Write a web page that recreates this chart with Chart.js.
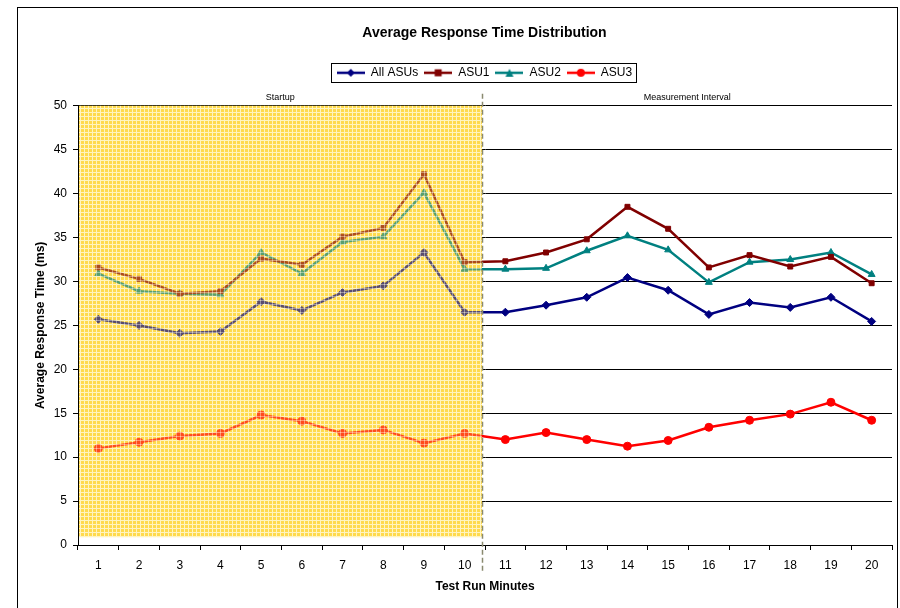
<!DOCTYPE html>
<html>
<head>
<meta charset="utf-8">
<script src="https://cdn.jsdelivr.net/npm/chart.js@4.4.1/dist/chart.umd.min.js"></script>
<style>
html, body { margin: 0; padding: 0; background: #fff; }
</style>
</head>
<body>
<canvas id="chart" width="900" height="608"></canvas>
<script>
// data
var minutes = ['1','2','3','4','5','6','7','8','9','10','11','12','13','14','15','16','17','18','19','20'];
var allAsus = [25.7, 25.0, 24.1, 24.3, 27.7, 26.7, 28.75, 29.5, 33.3, 26.5, 26.5, 27.3, 28.2, 30.45, 29.0, 26.25, 27.6, 27.05, 28.2, 25.45];
var asu1 = [31.6, 30.3, 28.6, 28.9, 32.6, 31.9, 35.1, 36.1, 42.2, 32.2, 32.3, 33.3, 34.8, 38.5, 36.0, 31.6, 33.0, 31.7, 32.8, 29.8];
var asu2 = [30.9, 28.9, 28.6, 28.5, 33.3, 30.9, 34.5, 35.1, 40.1, 31.4, 31.4, 31.5, 33.5, 35.2, 33.6, 29.9, 32.2, 32.5, 33.3, 30.8];
var asu3 = [11.0, 11.7, 12.4, 12.7, 14.8, 14.1, 12.7, 13.1, 11.6, 12.7, 12.0, 12.8, 12.0, 11.25, 11.9, 13.4, 14.2, 14.9, 16.25, 14.2];
var startupMinutes = 10;

Chart.defaults.font.family = '"Liberation Sans", Arial, sans-serif';
Chart.defaults.font.size = 12;
Chart.defaults.color = '#000';

// little line+marker pictures for the legend
function legendIcon(color, style) {
    var c = document.createElement('canvas');
    c.width = 28; c.height = 10;
    var g = c.getContext('2d');
    g.strokeStyle = color; g.fillStyle = color; g.lineWidth = 2.5;
    g.beginPath(); g.moveTo(0, 5); g.lineTo(28, 5); g.stroke();
    g.beginPath();
    if (style === 'rectRot') { g.moveTo(14, 1); g.lineTo(18, 5); g.lineTo(14, 9); g.lineTo(10, 5); }
    else if (style === 'rect') { g.rect(10.5, 1.5, 7, 7); }
    else if (style === 'triangle') { g.moveTo(14, 1); g.lineTo(18, 9); g.lineTo(10, 9); }
    else { g.arc(14, 5, 4, 0, Math.PI * 2); }
    g.closePath(); g.fill();
    return c;
}

// yellow checked pattern of the startup area
function makePattern(ctx, base, light) {
    var c = document.createElement('canvas');
    c.width = 4; c.height = 4;
    var g = c.getContext('2d');
    g.fillStyle = base;
    g.fillRect(0, 0, 4, 4);
    g.clearRect(0, 0, 4, 1);
    g.clearRect(0, 0, 1, 4);
    g.fillStyle = light;
    g.fillRect(0, 0, 4, 1);
    g.fillRect(0, 0, 1, 4);
    return ctx.createPattern(c, 'repeat');
}

var series = [
    { label: 'All ASUs', data: allAsus, color: '#000080', style: 'rectRot', r: 4 },
    { label: 'ASU1', data: asu1, color: '#800000', style: 'rect', r: 3.5 },
    { label: 'ASU2', data: asu2, color: '#008080', style: 'triangle', r: 4 },
    { label: 'ASU3', data: asu3, color: '#ff0000', style: 'circle', r: 4 }
];
var icons = series.map(function (s) { return legendIcon(s.color, s.style); });

function splitPixel(chart) {
    var xs = chart.scales.x;
    return (xs.getPixelForValue(startupMinutes - 1) + xs.getPixelForValue(startupMinutes)) / 2 - 3;
}

var extras = {
    id: 'extras',
    afterUpdate: function (chart) {
        // centre title and legend over the plot, like the original
        var d = 30;
        chart.titleBlock.left += d; chart.titleBlock.right += d;
        chart.legend.left += d; chart.legend.right += d;
        chart.legend.legendHitBoxes.forEach(function (h) { h.left += d; });
    },
    beforeDatasetsDraw: function (chart) {
        var ctx = chart.ctx, a = chart.chartArea, ys = chart.scales.y;
        var sx = splitPixel(chart);
        ctx.save();
        ctx.fillStyle = makePattern(ctx, '#ffdb4d', '#fff4c0');
        ctx.fillRect(a.left + 1, a.top, sx - a.left - 1, ys.getPixelForValue(0.9) - a.top);
        ctx.restore();
    },
    afterDatasetsDraw: function (chart) {
        var ctx = chart.ctx, a = chart.chartArea, ys = chart.scales.y;
        var sx = splitPixel(chart);
        ctx.save();
        ctx.fillStyle = makePattern(ctx, 'rgba(255,219,77,0.35)', 'rgba(255,244,192,0.6)');
        ctx.fillRect(a.left + 1, a.top, sx - a.left - 1, ys.getPixelForValue(0.9) - a.top);
        ctx.restore();
    },
    afterDraw: function (chart) {
        var ctx = chart.ctx, a = chart.chartArea;
        var sx = Math.round(splitPixel(chart)) + 0.5;
        ctx.save();
        // dashed separator
        ctx.strokeStyle = '#8a8a70';
        ctx.lineWidth = 1.5;
        ctx.setLineDash([5, 3]);
        ctx.beginPath();
        ctx.moveTo(sx, a.top - 12);
        ctx.lineTo(sx, a.bottom + 27);
        ctx.stroke();
        ctx.setLineDash([]);
        // region captions
        ctx.fillStyle = '#000';
        ctx.font = '9px "Liberation Sans", Arial, sans-serif';
        ctx.textAlign = 'center';
        ctx.textBaseline = 'middle';
        ctx.fillText('Startup', (a.left + sx) / 2, a.top - 8);
        ctx.fillText('Measurement Interval', (sx + a.right) / 2, a.top - 8);
        // legend frame
        var boxes = chart.legend.legendHitBoxes;
        if (boxes && boxes.length) {
            var l = boxes[0].left, r = boxes[boxes.length - 1].left + boxes[boxes.length - 1].width;
            var t = boxes[0].top, b = boxes[0].top + boxes[0].height;
            ctx.strokeStyle = '#000';
            ctx.lineWidth = 1;
            ctx.strokeRect(Math.round(l - 6) + 0.5, Math.round(t - 4) + 0.5, Math.round(r - l + 10), Math.round(b - t + 7));
        }
        // outer frame
        ctx.strokeStyle = '#000';
        ctx.lineWidth = 1;
        ctx.strokeRect(17.5, 7.5, 880, 640);
        ctx.restore();
    }
};

new Chart(document.getElementById('chart'), {
    type: 'line',
    data: {
        labels: minutes,
        datasets: series.map(function (s) {
            return {
                label: s.label,
                data: s.data,
                xAxisID: 'x',
                yAxisID: 'y',
                borderColor: s.color,
                backgroundColor: s.color,
                borderWidth: 2.5,
                pointStyle: s.style,
                pointRadius: s.r,
                pointBorderWidth: 1,
                tension: 0
            };
        })
    },
    options: {
        responsive: false,
        animation: false,
        layout: { padding: { left: 17, right: 8, top: 7, bottom: 0 } },
        plugins: {
            title: {
                display: true,
                text: 'Average Response Time Distribution',
                font: { size: 14, weight: 'bold' },
                color: '#000',
                padding: { top: 18, bottom: 19 }
            },
            legend: {
                display: true,
                position: 'top',
                labels: {
                    usePointStyle: true,
                    pointStyleWidth: 28,
                    padding: 6,
                    font: { size: 12 },
                    color: '#000',
                    generateLabels: function (chart) {
                        var items = Chart.defaults.plugins.legend.labels.generateLabels(chart);
                        items.forEach(function (it, i) { it.pointStyle = icons[i]; });
                        return items;
                    }
                }
            },
            tooltip: { enabled: false }
        },
        scales: {
            top: {
                type: 'linear',
                position: 'top',
                min: 0,
                max: 1,
                grid: { display: false },
                border: { display: false },
                ticks: { display: false },
                afterFit: function (s) { s.height = 17; }
            },
            x: {
                type: 'category',
                offset: true,
                grid: { offset: true, drawOnChartArea: false, drawTicks: true, tickLength: 5, color: '#000' },
                border: { color: '#000', width: 1 },
                ticks: { padding: 8, color: '#000', font: { size: 12 }, maxRotation: 0 },
                title: { display: true, text: 'Test Run Minutes', font: { size: 12, weight: 'bold' }, color: '#000', padding: { top: 4, bottom: 14 } },
                afterFit: function (s) { s.height = 63; }
            },
            y: {
                min: 0,
                max: 50,
                ticks: { stepSize: 5, padding: 6, color: '#000', font: { size: 12 } },
                grid: { color: '#000', tickLength: 5, lineWidth: 1 },
                border: { color: '#000', width: 1 },
                title: { display: true, text: 'Average Response Time (ms)', font: { size: 12, weight: 'bold' }, color: '#000', padding: { top: 16, bottom: 4 } },
                afterFit: function (s) { s.width = 61; }
            }
        }
    },
    plugins: [extras]
});
</script>
</body>
</html>
